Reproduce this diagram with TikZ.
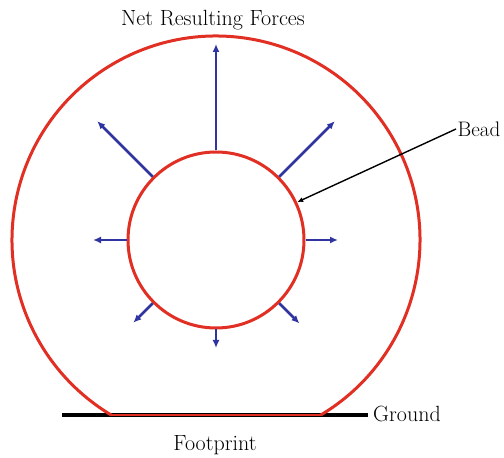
\documentclass[tikz,border=0pt]{standalone}
\usepackage{tikz}
\usetikzlibrary{arrows.meta,calc}
\definecolor{RojoLlanta}{RGB}{225,48,35}
\definecolor{AzulFuerza}{RGB}{48,52,160}

\begin{document}
\begin{tikzpicture}[x=1pt,y=1pt,>=Latex,font=\fontsize{22}{26}\selectfont]
  \useasboundingbox (0,0) rectangle (504,458);
  \coordinate (O) at (216,218);
  % suelo
  \coordinate (g1) at (62,43);
  \node[anchor=west,inner sep=5pt] (suelo) at (368,44) {Ground};
  \draw[line width=4pt] (g1) -- (suelo.west |- g1);
  % llanta
  \draw[RojoLlanta,line width=3pt] (O) ++(-59.07:204) coordinate (h2)
    arc[start angle=-59.07,end angle=239.07,radius=204] coordinate (h1);
  \draw[RojoLlanta,line width=1.4pt] (h1) -- (h2);
  \node[circle,draw=RojoLlanta,line width=3pt,minimum size=176pt,inner sep=0pt] (talon) at (O) {};
  \foreach \ang/\len in {90/196,45/168,135/168,0/122,180/123,225/117,315/118,270/108}
    \draw[-{Latex[length=8pt,width=7pt]},AzulFuerza,line width=2.5pt] (talon.\ang) -- ($(O)+(\ang:\len)$);
  % textos
  \node (fuerzas) at (213,438) {Net Resulting Forces};
  \node (huella) at (215,13) {Footprint};
  \node[anchor=west,inner sep=1.5pt,font=\fontsize{21}{24}\selectfont] (bead) at (456,329) {Bead};
  \draw[-{Latex[length=6pt,width=5pt]},line width=1.4pt] (bead.west) -- (talon.25);
\end{tikzpicture}
\end{document}
